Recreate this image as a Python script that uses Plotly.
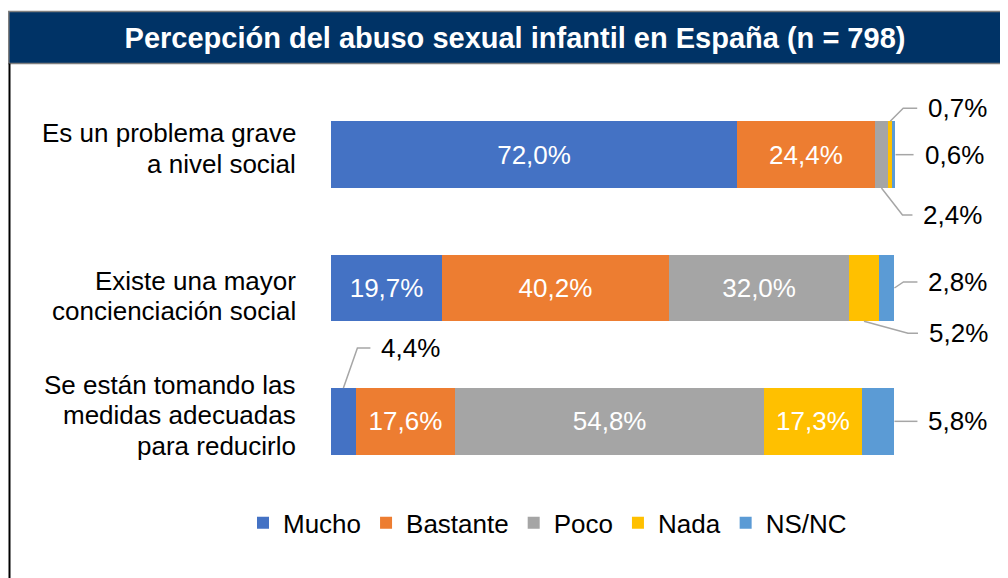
import plotly.graph_objects as go

# ---------------- data ----------------
categories = [
    "Es un problema grave<br>a nivel social",
    "Existe una mayor<br>concienciación social",
    "Se están tomando las<br>medidas adecuadas<br>para reducirlo",
]
series_names = ["Mucho", "Bastante", "Poco", "Nada", "NS/NC"]
mucho = [72.0, 19.7, 4.4]
bastante = [24.4, 40.2, 17.6]
poco = [2.4, 32.0, 54.8]
nada = [0.7, 5.2, 17.3]
nsnc = [0.6, 2.8, 5.8]
title_text = "Percepción del abuso sexual infantil en España (n = 798)"

# ---------------- style ----------------
colors = ["#4472C4", "#ED7D31", "#A5A5A5", "#FFC000", "#5B9BD5"]
FONT = "Liberation Sans, Arial, sans-serif"
W, H = 1000, 570                          # page has an 8px body margin
L, R, T, B = 323, 887, 80.4, 480.1        # plot area in figure px
XMAX = 100.0
BARGAP = 0.5
OUTSIDE_THRESHOLD = 6.0
LABEL_SIZE = 26
CAT_GAP = 33                 # gap between category text and bars
CAT_LINE = 30.5              # category label line spacing
cat_offsets = [-6, 8, -6]    # vertical shift of each category label block

# leader line style per (row, series): anchor, elbow dx, elbow dy, horizontal run
leader_style = {
    (0, 3): ("top", 13, -13, 14),
    (0, 4): ("end", 18, 0, 0),
    (0, 2): ("bottom", 21, 27, 10),
    (1, 4): ("end", 9, -6, 14),
    (1, 3): ("bottom", 44, 12, 10),
    (2, 0): ("top", 14, -40, 13),
    (2, 4): ("end", 23, 0, 0),
}
TEXT_GAP = 9

values = [mucho, bastante, poco, nada, nsnc]


def fmt(v):
    return f"{v:.1f}".replace(".", ",") + "%"


def px_x(v):
    return L + v / XMAX * (R - L)


def paper_x(px):
    return (px - L) / (R - L)


def paper_y(py):
    return (B - py) / (B - T)


n = len(categories)
row_h = (B - T) / n

fig = go.Figure()
for s, name in enumerate(series_names):
    texts = [fmt(v) if v >= OUTSIDE_THRESHOLD else "" for v in values[s]]
    fig.add_trace(go.Bar(
        y=categories, x=values[s], name=name, orientation="h",
        marker=dict(color=colors[s], line=dict(width=0)),
        text=texts, textposition="inside", insidetextanchor="middle",
        textangle=0, textfont=dict(color="white", size=LABEL_SIZE, family=FONT),
        hoverinfo="skip",
    ))

shapes = []
annotations = []

# category labels (one annotation per text line for Excel-like line spacing)
for i, cat in enumerate(categories):
    lines = cat.split("<br>")
    m = len(lines)
    cy = T + (i + 0.5) * row_h + cat_offsets[i]
    for k, line in enumerate(lines):
        ly = cy + (k - (m - 1) / 2) * CAT_LINE
        annotations.append(dict(
            x=paper_x(L - CAT_GAP), y=paper_y(ly), xref="paper", yref="paper",
            text=line, showarrow=False, xanchor="right", yanchor="middle",
            font=dict(size=LABEL_SIZE, color="black", family=FONT),
        ))

# outside labels with leader lines
for (row, s), (anchor, dx, dy, run) in leader_style.items():
    start = sum(values[k][row] for k in range(s))
    v = values[s][row]
    cy = T + (row + 0.5) * row_h
    half = row_h * (1 - BARGAP) / 2
    if anchor == "top":
        ax_, ay_ = px_x(start + v / 2), cy - half
    elif anchor == "bottom":
        ax_, ay_ = px_x(start + v / 2), cy + half
    else:
        ax_, ay_ = px_x(start + v), cy
    ex, ey = ax_ + dx, ay_ + dy
    fx = ex + run
    path = (f"M {paper_x(ax_)},{paper_y(ay_)} L {paper_x(ex)},{paper_y(ey)} "
            f"L {paper_x(fx)},{paper_y(ey)}")
    shapes.append(dict(type="path", xref="paper", yref="paper", path=path,
                       line=dict(color="#A6A6A6", width=1.5)))
    annotations.append(dict(
        x=paper_x(fx + TEXT_GAP), y=paper_y(ey), xref="paper", yref="paper",
        text=fmt(v), showarrow=False, xanchor="left", yanchor="middle",
        font=dict(size=LABEL_SIZE, color="black", family=FONT),
    ))

# title banner
shapes.append(dict(type="rect", xref="paper", yref="paper",
                   x0=paper_x(0.75), x1=paper_x(W + 5), y0=paper_y(56), y1=paper_y(4),
                   fillcolor="#003366", line=dict(color="#7F7F7F", width=1.5),
                   layer="below"))
# left border line
shapes.append(dict(type="line", xref="paper", yref="paper",
                   x0=paper_x(1.5), x1=paper_x(1.5), y0=paper_y(56), y1=paper_y(H + 5),
                   line=dict(color="black", width=2)))

fig.update_layout(
    width=W, height=H,
    margin=dict(l=L, r=W - R, t=T, b=H - B, pad=0),
    paper_bgcolor="white", plot_bgcolor="white",
    barmode="stack", bargap=BARGAP,
    font=dict(family=FONT, color="black"),
    title=dict(text=f"<b>{title_text}</b>", x=0.507, y=1 - 30 / H,
               xref="container", yref="container",
               xanchor="center", yanchor="middle",
               font=dict(size=29, color="white", family=FONT)),
    xaxis=dict(range=[0, XMAX], visible=False, fixedrange=True),
    yaxis=dict(type="category", range=[n - 0.5, -0.5], showgrid=False,
               showline=False, zeroline=False, ticks="", showticklabels=False),
    legend=dict(orientation="h", traceorder="normal",
                xref="paper", yref="paper",
                x=paper_x(235), xanchor="left", y=paper_y(515), yanchor="middle",
                font=dict(size=LABEL_SIZE, color="black", family=FONT),
                itemclick=False, itemdoubleclick=False),
    shapes=shapes, annotations=annotations,
    uniformtext=dict(mode=False),
)

fig.write_html("out.html")
